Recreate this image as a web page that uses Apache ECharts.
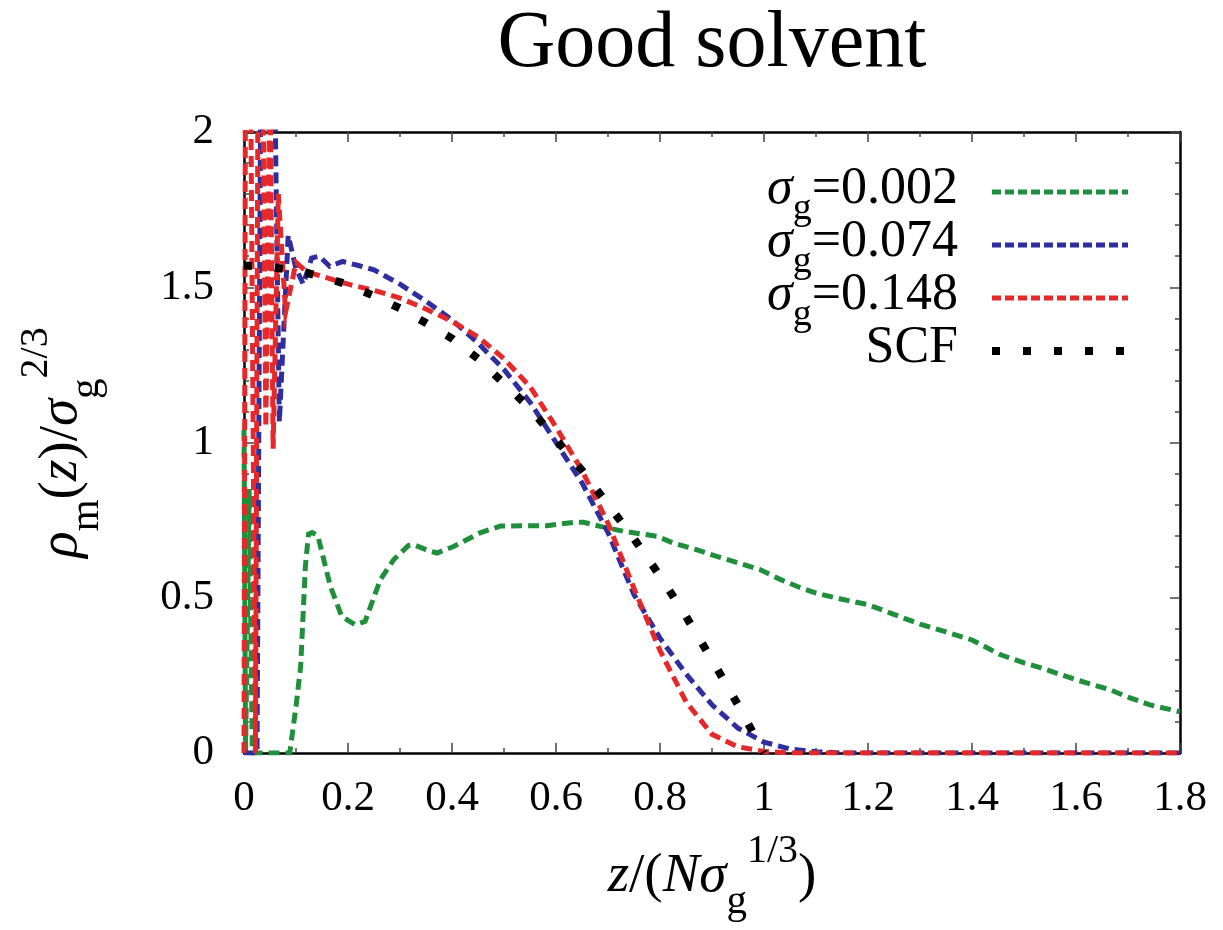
<!DOCTYPE html>
<html>
<head>
<meta charset="utf-8">
<script src="https://cdn.jsdelivr.net/npm/echarts@6/dist/echarts.min.js"></script>
<style>
  html, body { margin: 0; padding: 0; background: #fff; }
  #chart { width: 1223px; height: 930px; }
</style>
</head>
<body>
<div id="chart"></div>
<script>
// sigma_g = 0.002
var greenZ = [0, 0.003, 0.01, 0.016, 0.05, 0.088, 0.1, 0.109, 0.118, 0.124, 0.131, 0.142, 0.166, 0.188, 0.214, 0.233, 0.262, 0.288, 0.316, 0.326, 0.35, 0.371, 0.403, 0.454, 0.493, 0.54, 0.582, 0.634, 0.653, 0.685, 0.73, 0.794, 0.826, 0.87, 0.909, 0.941, 0.993, 1.03, 1.063, 1.1, 1.15, 1.2, 1.26, 1.3, 1.35, 1.4, 1.454, 1.5, 1.531, 1.6, 1.665, 1.7, 1.742, 1.8];
var greenRho = [1.04, 0.0, 0.85, 0.0, 0.0, 0.0, 0.15, 0.28, 0.6, 0.705, 0.71, 0.70, 0.537, 0.44, 0.413, 0.424, 0.558, 0.623, 0.668, 0.671, 0.655, 0.644, 0.665, 0.709, 0.731, 0.732, 0.732, 0.743, 0.743, 0.73, 0.714, 0.698, 0.676, 0.655, 0.633, 0.617, 0.59, 0.56, 0.537, 0.515, 0.495, 0.478, 0.44, 0.415, 0.39, 0.364, 0.317, 0.29, 0.275, 0.236, 0.204, 0.18, 0.155, 0.133];

// sigma_g = 0.074
var blueZ = [0, 0.025, 0.04, 0.068, 0.085, 0.1, 0.114, 0.13, 0.145, 0.165, 0.19, 0.22, 0.25, 0.3, 0.35, 0.4, 0.45, 0.5, 0.55, 0.6, 0.65, 0.7, 0.75, 0.8, 0.85, 0.9, 0.95, 1.0, 1.05, 1.1, 1.15, 1.8];
var blueRho = [0, 0, 4.5, 1.066, 1.667, 1.56, 1.51, 1.594, 1.6, 1.567, 1.583, 1.57, 1.556, 1.51, 1.455, 1.395, 1.32, 1.235, 1.13, 1.0, 0.87, 0.71, 0.51, 0.37, 0.255, 0.155, 0.08, 0.035, 0.013, 0.004, 0, 0];

// sigma_g = 0.148
var redZ = [0, 0.005, 0.022, 0.03, 0.042, 0.05, 0.056, 0.066, 0.08, 0.1, 0.12, 0.15, 0.2, 0.25, 0.3, 0.35, 0.4, 0.45, 0.5, 0.55, 0.6, 0.65, 0.7, 0.75, 0.8, 0.85, 0.9, 0.95, 1.0, 1.05, 1.8];
var redRho = [0, 4.0, 0.0, 3.5, 1.05, 2.2, 0.98, 1.80, 1.42, 1.58, 1.55, 1.535, 1.51, 1.49, 1.465, 1.43, 1.39, 1.34, 1.27, 1.18, 1.05, 0.91, 0.74, 0.53, 0.33, 0.165, 0.06, 0.02, 0.005, 0, 0];

// SCF theory
var scfZ = [0, 0.05, 0.1, 0.15, 0.2, 0.25, 0.3, 0.35, 0.4, 0.45, 0.5, 0.55, 0.6, 0.65, 0.7, 0.75, 0.8, 0.85, 0.9, 0.95, 1.0];
var scfRho = [1.57, 1.565, 1.553, 1.535, 1.508, 1.472, 1.432, 1.385, 1.335, 1.27, 1.19, 1.11, 1.01, 0.91, 0.80, 0.69, 0.57, 0.44, 0.30, 0.155, 0.0];

var legendNames = ['{n|σ}{sb|g}{m|=0.002}', '{n|σ}{sb|g}{m|=0.074}', '{n|σ}{sb|g}{m|=0.148}', '{m|SCF}'];
var colors = ['#1f8f3c', '#2e2e9e', '#e5282a', '#000000'];

var font = 'Liberation Serif';

function pairs(xs, ys) {
  return xs.map(function(x, i) { return [x, ys[i]]; });
}

var myChart = echarts.init(document.getElementById('chart'), null, { renderer: 'canvas' });

var titleRich = {
  n: { fontFamily: font, fontSize: 55, fontStyle: 'italic', lineHeight: 92, color: '#000' },
  m: { fontFamily: font, fontSize: 55, lineHeight: 92, color: '#000' },
  sb: { fontFamily: font, fontSize: 41, lineHeight: 52, verticalAlign: 'bottom', color: '#000' },
  sp: { fontFamily: font, fontSize: 40, lineHeight: 50, verticalAlign: 'top', color: '#000' }
};

var legendRich = {
  n: { fontFamily: font, fontSize: 52, fontStyle: 'italic', lineHeight: 78, fill: '#000' },
  m: { fontFamily: font, fontSize: 52, lineHeight: 78, fill: '#000' },
  sb: { fontFamily: font, fontSize: 38, lineHeight: 36, verticalAlign: 'bottom', fill: '#000' }
};

var dash = [11, 6];
var dot = [8, 23];

function frameAxis(pos, min, max, interval, minorSplit, showLabel) {
  return {
    type: 'value',
    position: pos,
    min: min,
    max: max,
    interval: interval,
    axisLine: { show: true, onZero: false, lineStyle: { color: '#000', width: 2.5 } },
    axisTick: { show: true, inside: true, length: 10, lineStyle: { color: '#444', width: 1.5 } },
    minorTick: { show: true, splitNumber: minorSplit, length: 5, lineStyle: { color: '#444', width: 1.5 } },
    splitLine: { show: false },
    minorSplitLine: { show: false },
    axisLabel: { show: showLabel, color: '#000', fontFamily: font, fontSize: 43 }
  };
}

var xBottom = frameAxis('bottom', 0, 1.8, 0.2, 2, true);
xBottom.axisLabel.margin = 24;
xBottom.name = '{n|z}{m|/(}{n|Nσ}{sb|g}{sp|1/3}{m|)}';
xBottom.nameLocation = 'middle';
xBottom.nameGap = 78;
xBottom.nameTextStyle = { rich: titleRich };
var xTop = frameAxis('top', 0, 1.8, 0.2, 2, false);

var yLeft = frameAxis('left', 0, 2, 0.5, 5, true);
yLeft.axisLabel.margin = 30;
yLeft.name = '{n|ρ}{sb|m}{m|(}{n|z}{m|)/}{n|σ}{sb|g}{sp|2/3}';
yLeft.nameLocation = 'middle';
yLeft.nameGap = 136;
yLeft.nameTextStyle = { rich: titleRich };
var yRight = frameAxis('right', 0, 2, 0.5, 5, false);

var legendRows = [189, 242, 295, 348];
var graphics = [{
  type: 'text',
  x: 712,
  y: 45,
  style: { text: 'Good solvent', fontFamily: font, fontSize: 80, fill: '#000', align: 'center', verticalAlign: 'middle' }
}];
legendNames.forEach(function(t, i) {
  graphics.push({
    type: 'text',
    x: 958,
    y: legendRows[i],
    style: { text: t, rich: legendRich, align: 'right', verticalAlign: 'middle' }
  });
  graphics.push({
    type: 'line',
    shape: { x1: 992, y1: legendRows[i] + 3, x2: 1128, y2: legendRows[i] + 3 },
    style: { stroke: colors[i], lineWidth: i === 3 ? 8 : 5, lineDash: i === 3 ? dot : [9, 4] }
  });
});

function lineSeries(name, data, color, width, type) {
  return {
    name: name,
    type: 'line',
    data: data,
    symbol: 'none',
    xAxisIndex: 0,
    yAxisIndex: 0,
    clip: true,
    lineStyle: { color: color, width: width, type: type, cap: 'butt', join: 'miter' }
  };
}

var option = {
  animation: false,
  backgroundColor: '#fff',
  grid: { left: 244, right: 43, top: 132, bottom: 177, containLabel: false, outerBoundsMode: 'none' },
  xAxis: [xBottom, xTop],
  yAxis: [yLeft, yRight],
  graphic: graphics,
  series: [
    lineSeries('g0.002', pairs(greenZ, greenRho), colors[0], 5, dash),
    lineSeries('g0.074', pairs(blueZ, blueRho), colors[1], 5, dash),
    lineSeries('g0.148', pairs(redZ, redRho), colors[2], 5, dash),
    lineSeries('SCF', pairs(scfZ, scfRho), colors[3], 8, dot)
  ]
};
myChart.setOption(option);
</script>
</body>
</html>
